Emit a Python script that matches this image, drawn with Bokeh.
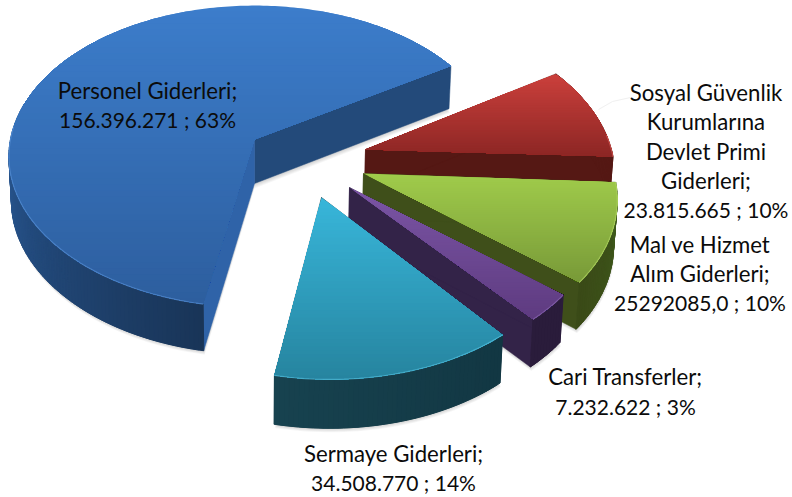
import math
from bokeh.plotting import figure
from bokeh.models import ColumnDataSource, Range1d
from bokeh.embed import file_html
from bokeh.resources import INLINE
from bokeh.core.properties import value

# ---------- data ----------
categories = ["Personel Giderleri", "Sermaye Giderleri", "Cari Transferler",
              "Mal ve Hizmet Alım Giderleri", "Sosyal Güvenlik Kurumlarına Devlet Primi Giderleri"]
values = [156396271, 34508770, 7232622, 25292085, 23815665]
label_lines = [
    ["Personel Giderleri;", "156.396.271 ; 63%"],
    ["Sermaye Giderleri;", "34.508.770 ; 14%"],
    ["Cari Transferler;", "7.232.622 ; 3%"],
    ["Mal ve Hizmet", "Alım Giderleri;", "25292085,0 ; 10%"],
    ["Sosyal Güvenlik", "Kurumlarına", "Devlet Primi", "Giderleri;", "23.815.665 ; 10%"],
]

# ---------- layout and style ----------
W, H = 792, 497
START_ANGLE = 32.0
X0, YH, REF_Y = 254.0, -1184.0, 139.0
RX, RY, K = 244.0, 149.0, 0.1126
DEPTH = 44.0
apexes = [(254, 139), (321, 197), (349, 187), (363, 173), (365, 149)]
turns = [-0.5, -1.0, 0.0, -0.5, 0.0]
radii = [1.0, 0.99, 0.98, 1.0, 1.0]
top_colors = [("#3C7DCB", "#2D5E9E"), ("#38B6DA", "#26849F"), ("#7B55A5", "#5E3B80"),
              ("#A0CB4B", "#789A38"), ("#CB403C", "#8C2624")]
outer_colors = [("#2C5E9E", "#193558"), ("#17424F", "#123743"), ("#2A1C3B", "#2A1C3B"),
                ("#3A4A17", "#3F5A1C"), ("#551814", "#551814")]
cut_start = ["#234A7A", "#123743", "#332348", "#3F4F1A", "#551814"]
cut_end = ["#2F63A8", "#123743", "#332348", "#3F4F1A", "#551814"]
rim_colors = ["#5A92D8", "#58C4E2", "#8E6CB6", "#B4D868", "#DA5F5A"]
text_pos = [(147, 90, 29), (393, 453, 29), (625, 376, 30), (699.5, 244, 29), (705.5, 92, 29.3)]
paint_order = [0, 4, 3, 2, 1]
leader_x, leader_y = [598, 612, 630], [109, 101, 97]


def hex2rgb(h):
    return tuple(int(h[i:i + 2], 16) for i in (1, 3, 5))


def lerp(c1, c2, t):
    t = max(0.0, min(1.0, t))
    a, b = hex2rgb(c1), hex2rgb(c2)
    return "#%02x%02x%02x" % tuple(round(a[i] + (b[i] - a[i]) * t) for i in range(3))


def project(apex, deg, radius=1.0):
    ax, ay = apex
    s = (ay - YH) / (REF_Y - YH)
    u, v = radius * math.cos(math.radians(deg)), radius * math.sin(math.radians(deg))
    f = 1.0 / (1.0 + K * s * v)
    return X0 + (ax - X0) * f + RX * s * u * f, ay - RY * s * s * v * f


def drop(apex, pt, deg=None, radius=0.0):
    ax, ay = apex
    s = (ay - YH) / (REF_Y - YH)
    v = 0.0 if deg is None else radius * math.sin(math.radians(deg))
    f = 1.0 / (1.0 + K * s * v)
    return X0 + (pt[0] - X0) * 0.99, pt[1] + DEPTH * s * math.sqrt(f)


def clip(poly, limit, keep_below):
    out = []
    for i, p in enumerate(poly):
        q = poly[(i + 1) % len(poly)]
        pin = p[1] >= limit if keep_below else p[1] <= limit
        qin = q[1] >= limit if keep_below else q[1] <= limit
        if pin:
            out.append(p)
        if pin != qin:
            t = (limit - p[1]) / (q[1] - p[1])
            out.append((p[0] + (q[0] - p[0]) * t, limit))
    return out


total = sum(values)
spans, a = [], START_ANGLE
for val in values:
    d = 360.0 * val / total
    spans.append((a, a + d))
    a += d

layers = []


def add(poly, col, lw=0.0):
    layers.append(([p[0] for p in poly], [p[1] for p in poly], col, 1.0, col if lw else None, lw))


for i in paint_order:
    apex = apexes[i]
    a0, a1 = spans[i][0] + turns[i], spans[i][1] + turns[i]
    n = max(8, int((a1 - a0) * 1.0))
    angs = [a0 + (a1 - a0) * j / n for j in range(n + 1)]
    tp = [project(apex, t, radii[i]) for t in angs]
    bt = [drop(apex, p, t, radii[i]) for p, t in zip(tp, angs)]
    abot = drop(apex, apex)

    # soft shadow under the walls
    for off in (5, 4, 3, 2, 1):
        sh = [(p[0] + off * 0.2, p[1] + off * 0.8) for p in bt] + [(abot[0], abot[1] + off)]
        layers.append(([p[0] for p in sh], [p[1] for p in sh], "#000000", 0.035, None, 0))

    # flat cut faces
    add([apex, tp[0], bt[0], abot], cut_start[i], 0.5)
    add([apex, tp[-1], bt[-1], abot], cut_end[i], 0.5)

    # outer wall, segment by segment over a solid base
    vis = [j for j in range(n) if math.sin(math.radians(angs[j])) < 0.25 or i == 4]
    add([tp[j] for j in vis] + [bt[j] for j in reversed(vis)], lerp(*outer_colors[i], 0.5), 0.5)
    for j in vis:
        t = (j - vis[0]) / max(1, len(vis) - 1)
        add([tp[j], tp[j + 1], bt[j + 1], bt[j]], lerp(*outer_colors[i], t), 1.0)

    # top face with a vertical gradient made of thin overlapping bands
    face = [apex] + tp
    ymin, ymax = min(p[1] for p in face), max(p[1] for p in face)
    bands = 50
    for b in range(bands):
        y0 = ymin + (ymax - ymin) * b / bands
        poly = clip(face, y0, True)
        if len(poly) >= 3:
            add(poly, lerp(*top_colors[i], (b + 0.5) / bands))

    # rim highlight on the front arc
    front = [p for p, t in zip(tp, angs) if math.sin(math.radians(t)) < 0.1]
    if front:
        layers.append(([p[0] for p in front], [p[1] for p in front], None, 0.6, rim_colors[i], 1.2))

p = figure(width=W, height=H, x_range=Range1d(0, W), y_range=Range1d(H, 0),
           output_backend="svg", toolbar_location=None, min_border=0,
           outline_line_color=None, background_fill_color="white", border_fill_color="white")
p.margin = 0
p.axis.visible = False
p.grid.visible = False

p.line(leader_x, leader_y, line_color="#f0f0f0", line_width=1)

for lx, ly, fill, alpha, line, lw in layers:
    if fill is None:
        p.line(lx, ly, line_color=line, line_alpha=alpha, line_width=lw)
    elif line is None:
        p.patch(lx, ly, fill_color=fill, fill_alpha=alpha, line_color=None)
    else:
        p.patch(lx, ly, fill_color=fill, line_color=line, line_width=lw)

names = dict(x=[], y=[], t=[])
nums = dict(x=[], y=[], t=[])
for lines, (cx, cy, step) in zip(label_lines, text_pos):
    for j, line in enumerate(lines):
        d = nums if j == len(lines) - 1 else names
        d["x"].append(cx)
        d["y"].append(cy + j * step)
        d["t"].append(line)
for d, size in ((names, "22.2px"), (nums, "21px")):
    p.text(x="x", y="y", text="t", source=ColumnDataSource(d),
           text_font=value("Lato"), text_font_size=size, text_color="#0b0b0b",
           text_align="center", text_baseline="middle")

open("out.html", "w").write(file_html(p, INLINE))
